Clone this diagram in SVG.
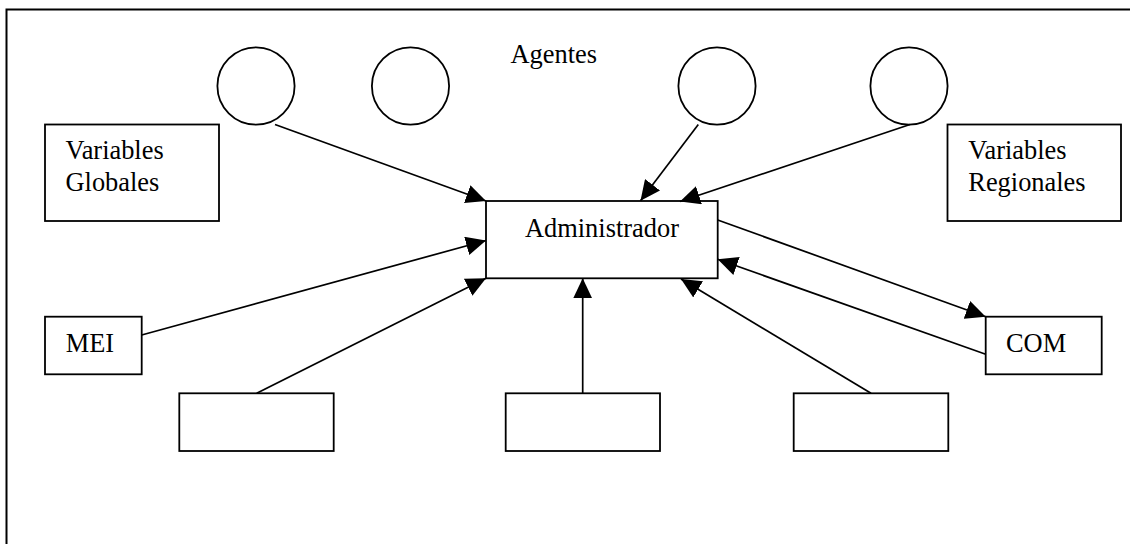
<svg xmlns="http://www.w3.org/2000/svg" width="1130" height="544" viewBox="0 0 1130 544">
<style>
.shape{fill:#fff;stroke:#000;stroke-width:1.8}
.frame{fill:none;stroke:#000;stroke-width:2}
.lbl{font-family:"Liberation Serif","Times New Roman",serif;font-size:26.4px;fill:#000}
.conn line{stroke:#000;stroke-width:1.7;marker-end:url(#arr)}
</style>
<defs>
<marker id="arr" markerUnits="userSpaceOnUse" viewBox="0 0 20 19" refX="20" refY="9.5" markerWidth="20" markerHeight="19" orient="auto">
<path d="M0,0 L20,9.5 L0,19 Z" fill="#000"/>
</marker>
</defs>
<rect class="frame" x="6.5" y="9.5" width="1200" height="600"/>
<g id="agentes-label"><text class="lbl" x="510.5" y="63.3">Agentes</text></g>
<g id="agent1"><circle class="shape" cx="256" cy="86" r="38.6"/></g>
<g id="agent2"><circle class="shape" cx="410.5" cy="86" r="38.6"/></g>
<g id="agent3"><circle class="shape" cx="717" cy="86" r="38.6"/></g>
<g id="agent4"><circle class="shape" cx="909" cy="86" r="38.6"/></g>
<g id="var-globales"><rect class="shape" x="45" y="124.5" width="174" height="96.5"/><text class="lbl" x="65.5" y="159">Variables</text><text class="lbl" x="65.5" y="190.7">Globales</text></g>
<g id="var-regionales"><rect class="shape" x="947.5" y="124.5" width="173.5" height="96.5"/><text class="lbl" x="968.3" y="159">Variables</text><text class="lbl" x="968.3" y="190.7">Regionales</text></g>
<g id="administrador"><rect class="shape" x="486" y="201" width="231.7" height="77.3"/><text class="lbl" x="525" y="236.7">Administrador</text></g>
<g id="mei"><rect class="shape" x="45" y="316.7" width="96.7" height="57.6"/><text class="lbl" x="65.7" y="352.3">MEI</text></g>
<g id="com"><rect class="shape" x="985.7" y="316.7" width="116" height="57.6"/><text class="lbl" x="1006" y="352.3">COM</text></g>
<g id="box-left"><rect class="shape" x="179.3" y="393.3" width="154.4" height="57.7"/></g>
<g id="box-middle"><rect class="shape" x="505.7" y="393.3" width="154.3" height="57.7"/></g>
<g id="box-right"><rect class="shape" x="793.7" y="393.3" width="154.6" height="57.7"/></g>
<g id="connectors" class="conn">
<line x1="275" y1="124.5" x2="486" y2="201"/>
<line x1="698.3" y1="124.5" x2="640.5" y2="200.7"/>
<line x1="910" y1="124.5" x2="680" y2="201.5"/>
<line x1="141.7" y1="335" x2="486" y2="240.5"/>
<line x1="256.7" y1="393.3" x2="486" y2="278.3"/>
<line x1="582.7" y1="393.3" x2="582.7" y2="278.3"/>
<line x1="871" y1="393.3" x2="681" y2="279"/>
<line x1="717.7" y1="220" x2="985.7" y2="316.7"/>
<line x1="985.7" y1="354.3" x2="717.7" y2="259.3"/>
</g>
</svg>
